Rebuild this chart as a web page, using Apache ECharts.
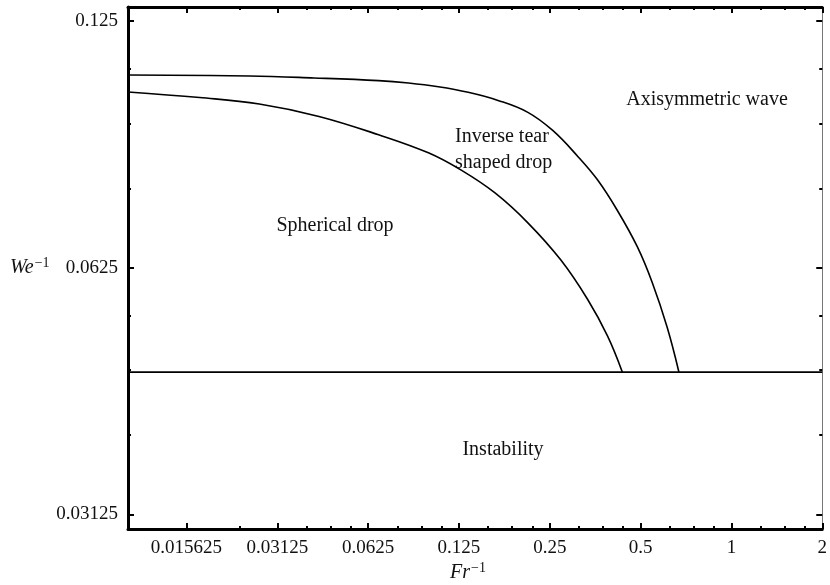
<!DOCTYPE html>
<html>
<head>
<meta charset="utf-8">
<script src="https://cdn.jsdelivr.net/npm/echarts@6/dist/echarts.min.js"></script>
<style>html,body{margin:0;padding:0;background:#fff;}#c{width:830px;height:585px;}</style>
</head>
<body>
<div id="c"></div>
<script>
// Data (log-log, base 2)
var xUpper = [0.01, 0.02525, 0.04135, 0.0677, 0.08505, 0.1068, 0.1341, 0.1684, 0.2115, 0.2557, 0.3091, 0.3598, 0.4188, 0.4875, 0.546, 0.612, 0.670];
var yUpper = [0.1074, 0.1071, 0.1065, 0.1057, 0.1050, 0.1039, 0.1023, 0.1000, 0.0967, 0.0919, 0.0855, 0.0800, 0.0734, 0.0663, 0.0600, 0.0529, 0.0466];
var xLower = [0.01, 0.01727, 0.02724, 0.04295, 0.0677, 0.0990, 0.1272, 0.1646, 0.2115, 0.2717, 0.3335, 0.3883, 0.4351];
var yLower = [0.1024, 0.1008, 0.0990, 0.0956, 0.0908, 0.0863, 0.0822, 0.0771, 0.0709, 0.0639, 0.0572, 0.0516, 0.0466];
var xBase = [0.01, 2];
var yBase = [0.0466, 0.0466];

var xTicks = [0.015625, 0.03125, 0.0625, 0.125, 0.25, 0.5, 1, 2];
var yTicks = [0.03125, 0.0625, 0.125];
var xMinorTicks = [0.0234375, 0.0390625, 0.046875, 0.0546875, 0.078125, 0.09375, 0.109375,
  0.15625, 0.1875, 0.21875, 0.3125, 0.375, 0.4375, 0.625, 0.75, 0.875, 1.25, 1.5, 1.75];
var yMinorTicks = [0.0390625, 0.046875, 0.0546875, 0.078125, 0.09375, 0.109375];

var regionLabels = ['Axisymmetric wave', 'Inverse tear', 'shaped drop', 'Spherical drop', 'Instability'];

function pairs(xs, ys) { return xs.map(function (x, i) { return [x, ys[i]]; }); }

var FONT = '"Liberation Serif", "Times New Roman", serif';
var X_MIN = 0.01, X_MAX = 2, Y_MIN = 0.03, Y_MAX = 0.13;

function xAx(pos, minor, showLabel, lineStyle) {
  return {
    type: 'log', logBase: 2, min: X_MIN, max: X_MAX, position: pos,
    axisLine: lineStyle ? { show: true, onZero: false, lineStyle: lineStyle } : { show: false },
    axisTick: { show: true, inside: true, customValues: minor ? xMinorTicks : xTicks,
      length: minor ? 3 : 6, lineStyle: { color: '#000', width: 2 } },
    axisLabel: showLabel ? { show: true, customValues: xTicks, color: '#111', fontFamily: FONT, fontSize: 19, margin: 10,
      formatter: function (v) { return String(v); } } : { show: false },
    splitLine: { show: false }
  };
}
function yAx(pos, minor, showLabel, lineStyle) {
  return {
    type: 'log', logBase: 2, min: Y_MIN, max: Y_MAX, position: pos,
    axisLine: lineStyle ? { show: true, onZero: false, lineStyle: lineStyle } : { show: false },
    axisTick: { show: true, inside: true, customValues: minor ? yMinorTicks : yTicks,
      length: minor ? 3 : 6, lineStyle: { color: '#000', width: 2 } },
    axisLabel: showLabel ? { show: true, customValues: yTicks, color: '#111', fontFamily: FONT, fontSize: 19, margin: 10,
      formatter: function (v) { return String(v); } } : { show: false },
    splitLine: { show: false }
  };
}

var chart = echarts.init(document.getElementById('c'), null, { renderer: 'canvas' });
var lineCommon = { type: 'line', symbol: 'none', xAxisIndex: 0, yAxisIndex: 0, silent: true, animation: false };

chart.setOption({
  animation: false,
  backgroundColor: '#fff',
  grid: { left: 128, right: 4, top: 7, bottom: 56, containLabel: false },
  xAxis: [
    xAx('bottom', false, true, { color: '#000', width: 3 }),
    xAx('bottom', true, false, null),
    xAx('top', false, false, { color: '#000', width: 3 }),
    xAx('top', true, false, null)
  ],
  yAxis: [
    yAx('left', false, true, { color: '#000', width: 3 }),
    yAx('left', true, false, null),
    yAx('right', false, false, { color: '#777', width: 1 }),
    yAx('right', true, false, null)
  ],
  series: [
    Object.assign({}, lineCommon, { data: pairs(xUpper, yUpper), smooth: 0.4, lineStyle: { color: '#000', width: 1.6 } }),
    Object.assign({}, lineCommon, { data: pairs(xLower, yLower), smooth: 0.4, lineStyle: { color: '#000', width: 1.6 } }),
    Object.assign({}, lineCommon, { data: pairs(xBase, yBase), lineStyle: { color: '#000', width: 1.8 } })
  ],
  graphic: [
    { type: 'text', x: 707, y: 100, style: { text: regionLabels[0], font: '20px ' + FONT, fill: '#111', align: 'center', verticalAlign: 'middle' } },
    { type: 'text', x: 455, y: 137, style: { text: regionLabels[1], font: '20px ' + FONT, fill: '#111', align: 'left', verticalAlign: 'middle' } },
    { type: 'text', x: 455, y: 163, style: { text: regionLabels[2], font: '20px ' + FONT, fill: '#111', align: 'left', verticalAlign: 'middle' } },
    { type: 'text', x: 335, y: 226, style: { text: regionLabels[3], font: '20px ' + FONT, fill: '#111', align: 'center', verticalAlign: 'middle' } },
    { type: 'text', x: 503, y: 450, style: { text: regionLabels[4], font: '20px ' + FONT, fill: '#111', align: 'center', verticalAlign: 'middle' } },
    { type: 'text', x: 10, y: 268, style: {
        text: '{i|We}{s|\u22121}', verticalAlign: 'middle', align: 'left',
        rich: {
          i: { fontFamily: FONT, fontStyle: 'italic', fontSize: 20, fill: '#111' },
          s: { fontFamily: FONT, fontSize: 14, fill: '#111', padding: [0, 0, 9, 1] }
        } } },
    { type: 'text', x: 450, y: 573, style: {
        text: '{i|Fr}{s|\u22121}', verticalAlign: 'middle', align: 'left',
        rich: {
          i: { fontFamily: FONT, fontStyle: 'italic', fontSize: 20, fill: '#111' },
          s: { fontFamily: FONT, fontSize: 14, fill: '#111', padding: [0, 0, 9, 1] }
        } } }
  ]
});
</script>
</body>
</html>
